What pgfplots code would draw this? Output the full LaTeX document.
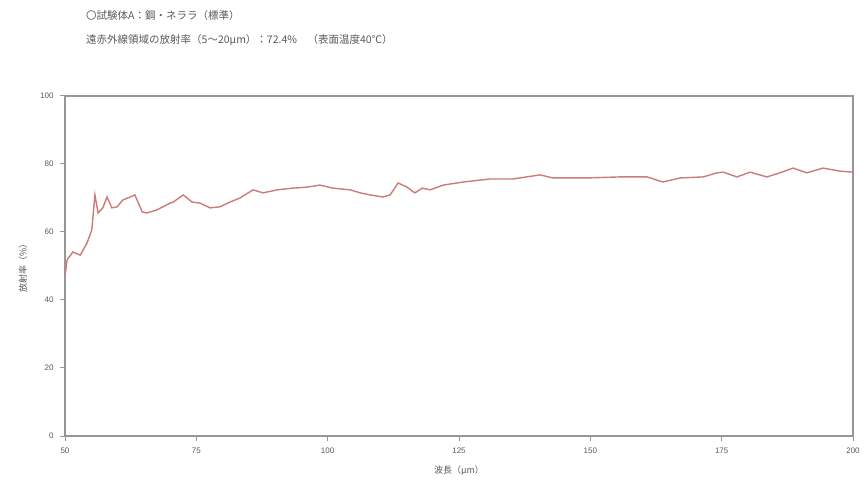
\documentclass[border=0pt]{standalone}
\usepackage{pgfplots}
\pgfplotsset{compat=1.18}
\usepackage{fontspec}
\setmainfont{Liberation Sans}
\newfontfamily\jp{Noto Sans CJK JP}
\definecolor{curve}{RGB}{204,122,122}
\definecolor{frame}{RGB}{150,150,150}
\definecolor{txt}{RGB}{90,90,90}
\begin{document}
\begin{tikzpicture}
\useasboundingbox (0,0) rectangle (865bp,481bp);
\node[anchor=west, text=txt, font=\jp\fontsize{10.5bp}{12bp}\selectfont, inner sep=0] at (86bp,465bp) {〇試験体A：鋼・ネララ（標準）};
\node[anchor=west, text=txt, font=\jp\fontsize{10.5bp}{12bp}\selectfont, inner sep=0] at (86bp,441bp) {遠赤外線領域の放射率（5～20μm）：72.4\%　（表面温度40℃）};
\begin{axis}[
  at={(65bp,45bp)}, anchor=south west,
  width=788bp, height=340bp, scale only axis,
  xmin=50, xmax=200, ymin=0, ymax=100,
  xtick={50,75,100,125,150,175,200},
  ytick={0,20,40,60,80,100},
  axis line style={frame, line width=1.5bp},
  tick style={frame, line width=1bp},
  tick align=outside, major tick length=5bp,
  xtick pos=bottom, ytick pos=left,
  /pgf/number format/assume math mode=true,
  ticklabel style={text=txt, font=\fontsize{8bp}{9bp}\selectfont},
  yticklabel style={xshift=-3bp},
  xticklabel style={yshift=-3bp},
  xlabel={\jp 波長（μm）},
  ylabel={\jp 放射率（\%）},
  xlabel shift=6bp, ylabel shift=6bp,
  label style={text=txt, font=\jp\fontsize{9bp}{10bp}\selectfont},
]
\addplot[curve, line width=1.4bp] coordinates {
(50.0,47.0) (50.4,51.8) (51.5,54.1) (52.9,53.2) (54.2,56.8) (55.1,60.6)
(55.7,70.9) (56.3,65.6) (57.2,67.1) (58.0,70.3) (58.9,67.1) (59.9,67.4)
(61.0,69.4) (62.4,70.3) (63.3,70.9) (64.7,65.9) (65.6,65.6) (67.5,66.5)
(70.0,68.5) (70.6,68.8) (72.5,70.9) (74.2,68.8) (75.7,68.5) (77.6,67.1)
(79.5,67.4) (81.4,68.8) (83.3,70.0) (85.8,72.4) (87.7,71.5) (90.4,72.4)
(93.4,72.9) (96.1,73.2) (98.5,73.8) (101.0,72.9) (104.3,72.4) (106.2,71.5)
(108.1,70.9) (110.5,70.3) (111.9,70.9) (113.4,74.4) (115.1,73.2) (116.6,71.5)
(118.0,72.9) (119.5,72.4) (122.0,73.8) (125.8,74.7) (130.9,75.6) (135.3,75.6)
(140.4,76.8) (142.9,75.9) (149.4,75.9) (155.6,76.2) (160.8,76.2) (163.8,74.7)
(167.1,75.9) (171.5,76.2) (174.1,77.4) (175.3,77.6) (177.9,76.2) (180.4,77.6)
(183.6,76.2) (186.1,77.4) (188.6,78.8) (191.2,77.4) (194.3,78.8) (197.5,77.9)
(200.0,77.6)
};
\end{axis}
\end{tikzpicture}
\end{document}
